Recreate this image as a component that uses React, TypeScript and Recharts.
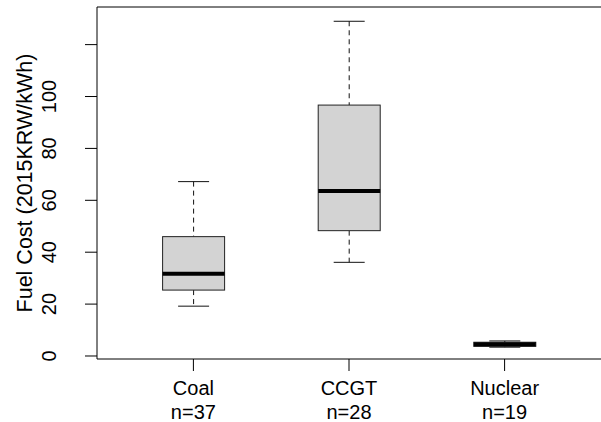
import React from 'react';
import { ComposedChart, Bar, XAxis, YAxis } from 'recharts';

const categories = ['Coal', 'CCGT', 'Nuclear'];
const counts = [37, 28, 19];
const mins = [19.2, 36.1, 3.4];
const q1s = [25.4, 48.3, 3.7];
const medians = [31.7, 63.6, 4.5];
const q3s = [46.0, 96.7, 5.3];
const maxs = [67.2, 129.0, 5.8];
const yTicks = [0, 20, 40, 60, 80, 100, 120];
const yTickLabels = ['0', '20', '40', '60', '80', '100', ''];
const yTitle = 'Fuel Cost (2015KRW/kWh)';
const yDomain = [-1.16, 134.5];

const data = categories.map((c, i) => ({
  name: c,
  n: counts[i],
  min: mins[i],
  q1: q1s[i],
  median: medians[i],
  q3: q3s[i],
  max: maxs[i],
  range: [mins[i], maxs[i]],
}));

const FONT = '"Liberation Sans", Arial, sans-serif';

const BoxShape = (props: any) => {
  const { x, y, width, height, payload } = props;
  if (!payload) return null;
  const top = Math.min(y, y + height);
  const h = Math.abs(height);
  const lo = payload.min;
  const hi = payload.max;
  const ppu = h / (hi - lo);
  const toY = (v: number) => top + (hi - v) * ppu;
  const cx = x + width / 2;
  const capHalf = width / 4;
  const yq1 = toY(payload.q1);
  const yq3 = toY(payload.q3);
  const ymed = toY(payload.median);
  const ymin = toY(payload.min);
  const ymax = toY(payload.max);
  return (
    <g>
      <line x1={cx} x2={cx} y1={ymax} y2={yq3} stroke="#111" strokeWidth={1} strokeDasharray="5 4" />
      <line x1={cx} x2={cx} y1={yq1} y2={ymin} stroke="#111" strokeWidth={1} strokeDasharray="5 4" />
      <line x1={cx - capHalf} x2={cx + capHalf} y1={ymax} y2={ymax} stroke="#111" strokeWidth={1} />
      <line x1={cx - capHalf} x2={cx + capHalf} y1={ymin} y2={ymin} stroke="#111" strokeWidth={1} />
      <rect x={x} y={yq3} width={width} height={yq1 - yq3} fill="#D3D3D3" stroke="#222" strokeWidth={1} />
      <line x1={x} x2={x + width} y1={ymed} y2={ymed} stroke="#000" strokeWidth={4} />
    </g>
  );
};

const XTick = (props: any) => {
  const { x, y, payload, index } = props;
  const i = payload && payload.index !== undefined ? payload.index : index;
  return (
    <g>
      <text x={x} y={y + 22} textAnchor="middle" fontSize={20} fontFamily={FONT} fill="#000">
        {payload.value}
      </text>
      <text x={x} y={y + 46} textAnchor="middle" fontSize={20} fontFamily={FONT} fill="#000">
        {'n=' + counts[i]}
      </text>
    </g>
  );
};

const YTick = (props: any) => {
  const { x, y, payload } = props;
  const idx = yTicks.indexOf(payload.value);
  const label = idx >= 0 ? yTickLabels[idx] : String(payload.value);
  const bx = x - 26.5;
  return (
    <text
      x={bx}
      y={y}
      transform={`rotate(-90, ${bx}, ${y})`}
      textAnchor="middle"
      fontSize={20}
      fontFamily={FONT}
      fill="#000"
    >
      {label}
    </text>
  );
};

const YTitle = (props: any) => {
  const vb = props.viewBox || { x: 0, y: 7, width: 97, height: 352 };
  const cx = vb.x + 32;
  const cy = vb.y + vb.height / 2;
  return (
    <text
      x={cx}
      y={cy}
      transform={`rotate(-90, ${cx}, ${cy})`}
      textAnchor="middle"
      fontSize={21.5}
      fontFamily={FONT}
      fill="#000"
    >
      {yTitle}
    </text>
  );
};

export default function App() {
  return (
    <div style={{ position: 'absolute', left: 0, top: 0, width: 601, height: 422, overflow: 'hidden', background: '#fff' }}>
      <ComposedChart width={604} height={422} data={data} margin={{ top: 6, right: 3, bottom: 0, left: 0 }}>
        <XAxis
          dataKey="name"
          height={63}
          padding={{ left: 18.6, right: 18.6 }}
          tickSize={12}
          tickLine={{ stroke: '#000' }}
          axisLine={{ stroke: '#000' }}
          interval={0}
          tick={<XTick />}
        />
        <XAxis
          xAxisId="top"
          orientation="top"
          dataKey="name"
          height={1}
          padding={{ left: 18.6, right: 18.6 }}
          axisLine={{ stroke: '#000' }}
          tick={false}
          tickLine={false}
        />
        <YAxis
          width={97}
          type="number"
          domain={yDomain}
          ticks={yTicks}
          allowDataOverflow
          tickSize={12}
          tickLine={{ stroke: '#000' }}
          axisLine={{ stroke: '#000' }}
          interval={0}
          tick={<YTick />}
          label={{ content: <YTitle /> }}
        />
        <Bar dataKey="range" barSize={62} isAnimationActive={false} shape={<BoxShape />} />
      </ComposedChart>
    </div>
  );
}
